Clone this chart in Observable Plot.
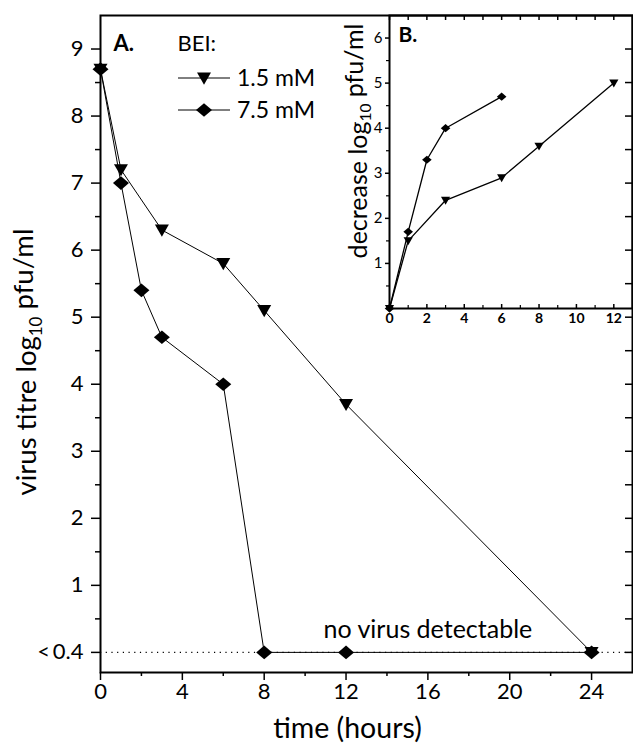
<!DOCTYPE html>
<html>
<head>
<meta charset="utf-8">
<script src="https://cdn.jsdelivr.net/npm/d3@7"></script>
<script src="https://cdn.jsdelivr.net/npm/@observablehq/plot@0.6"></script>
<style>
  html, body { margin: 0; padding: 0; background: white; }
  #wrap { position: relative; width: 633px; height: 750px; }
  #wrap svg { position: absolute; left: 0; top: 0; }
</style>
</head>
<body>
<div id="wrap"></div>
<script>
// ---------- data: panel A (virus titre) ----------
const timeA15 = [0, 1, 3, 6, 8, 12, 24];
const titreA15 = [8.7, 7.2, 6.3, 5.8, 5.1, 3.7, 0];
const timeA75 = [0, 1, 2, 3, 6, 8, 12, 24];
const titreA75 = [8.7, 7.0, 5.4, 4.7, 4.0, 0, 0, 0];

// ---------- data: panel B (decrease) ----------
const timeB15 = [0, 1, 3, 6, 8, 12];
const decB15 = [0, 1.5, 2.4, 2.9, 3.6, 5.0];
const timeB75 = [0, 1, 2, 3, 6];
const decB75 = [0, 1.7, 3.3, 4.0, 4.7];

const seriesNames = ["1.5 mM", "7.5 mM"];

// ---------- ticks ----------
const yTicksA = [0, 1, 2, 3, 4, 5, 6, 7, 8, 9];
const yTickLabelsA = ["<\u20090.4", "1", "2", "3", "4", "5", "6", "7", "8", "9"];
const yMinorA = [0.5, 1.5, 2.5, 3.5, 4.5, 5.5, 6.5, 7.5, 8.5];
const yRightA = [0, 0.5, 1, 1.5, 2, 2.5, 3, 3.5, 4, 4.5, 5, 5.5, 6, 6.5, 7, 7.5, 8, 8.5, 9];
const xTicksA = [0, 4, 8, 12, 16, 20, 24];
const xMinorA = [2, 6, 10, 14, 18, 22];

const yTicksB = [1, 2, 3, 4, 5, 6];
const yMinorB = [0.5, 1.5, 2.5, 3.5, 4.5, 5.5];
const xTicksB = [0, 2, 4, 6, 8, 10, 12];
const xMinorB = [1, 3, 5, 7, 9, 11];

const annotations = [{label: "no virus detectable", t: 16, v: 0}];

// ---------- tables ----------
const dataA = [
  ...timeA15.map((t, i) => ({t, v: titreA15[i], s: seriesNames[0]})),
  ...timeA75.map((t, i) => ({t, v: titreA75[i], s: seriesNames[1]}))
];
const dataB = [
  ...timeB15.map((t, i) => ({t, v: decB15[i], s: seriesNames[0]})),
  ...timeB75.map((t, i) => ({t, v: decB75[i], s: seriesNames[1]}))
];

// ---------- symbols ----------
const triDown = {draw(ctx, size) { const s = Math.sqrt(size / Math.PI);
  ctx.moveTo(-s, -0.78 * s); ctx.lineTo(s, -0.78 * s); ctx.lineTo(0, 0.95 * s); ctx.closePath(); }};
const diamond = {draw(ctx, size) { const s = Math.sqrt(size / Math.PI);
  ctx.moveTo(0, -0.85 * s); ctx.lineTo(s, 0); ctx.lineTo(0, 0.85 * s); ctx.lineTo(-s, 0); ctx.closePath(); }};

const FONT = "Lato, 'Open Sans', sans-serif";

// ---------- main plot ----------
const main = Plot.plot({
  width: 633, height: 750,
  marginLeft: 100, marginRight: 1, marginTop: 15, marginBottom: 78,
  style: {fontFamily: FONT, background: "white", color: "black"},
  x: {domain: [0, 26]},
  y: {domain: [-0.3, 9.5]},
  marks: [
    Plot.ruleY([0], {stroke: "black", strokeWidth: 1.2, strokeDasharray: "1.2,4.5"}),
    Plot.frame({stroke: "black", strokeWidth: 2}),
    Plot.axisY(yTicksA, {anchor: "left", tickSize: 9, tickPadding: 8, strokeWidth: 1.5,
      tickFormat: (d) => yTickLabelsA[yTicksA.indexOf(d)], fontSize: 22, label: null}),
    Plot.axisY(yMinorA, {anchor: "left", tickSize: 5, strokeWidth: 1.5, tickFormat: () => "", label: null}),
    Plot.axisY(yRightA, {anchor: "right", tickSize: -8, strokeWidth: 1.5, tickFormat: () => "", label: null}),
    Plot.axisX(xTicksA, {anchor: "bottom", tickSize: 8, tickPadding: 3, strokeWidth: 1.5, fontSize: 22, label: null}),
    Plot.axisX(xMinorA, {anchor: "bottom", tickSize: 4, strokeWidth: 1.5, tickFormat: () => "", label: null}),
    Plot.line(dataA, {x: "t", y: "v", z: "s", stroke: "black", strokeWidth: 1}),
    Plot.dot(dataA.filter(d => d.s === seriesNames[0]), {x: "t", y: "v", r: 7, symbol: triDown, fill: "black", stroke: "none"}),
    Plot.dot(dataA.filter(d => d.s === seriesNames[1]), {x: "t", y: "v", r: 8, symbol: diamond, fill: "black", stroke: "none"}),
    Plot.text(annotations, {x: "t", y: "v", text: "label", dy: -22, fontSize: 25}),
    Plot.text(["time (hours)"], {frameAnchor: "bottom", dy: 65, dx: -19, fontSize: 28.5}),
    Plot.text(["virus titre log10 pfu/ml"], {frameAnchor: "left", textAnchor: "middle", rotate: -90, dx: -73, dy: 18, fontSize: 27.5}),
    Plot.text(["A."], {frameAnchor: "top-left", dx: 13, dy: 28, fontSize: 22, fontWeight: "bold", textAnchor: "start", lineAnchor: "middle"}),
    Plot.text(["BEI:"], {frameAnchor: "top-left", dx: 77, dy: 28, fontSize: 22, textAnchor: "start", lineAnchor: "middle"})
  ]
});

// ---------- inset plot ----------
const inset = Plot.plot({
  width: 633, height: 330,
  marginLeft: 389, marginRight: 1, marginTop: 15, marginBottom: 22,
  style: {fontFamily: FONT, background: "transparent", color: "black", overflow: "visible"},
  x: {domain: [0, 13]},
  y: {domain: [0, 6.5]},
  marks: [
    Plot.frame({stroke: "black", strokeWidth: 2}),
    Plot.axisY(yTicksB, {anchor: "left", tickSize: 4, tickPadding: 3, strokeWidth: 1.5, fontSize: 15, label: null}),
    Plot.axisY(yMinorB, {anchor: "left", tickSize: 3, strokeWidth: 1.2, tickFormat: () => "", label: null}),
    Plot.axisX(xTicksB, {anchor: "bottom", tickSize: -4, tickPadding: 9, strokeWidth: 1.5, fontSize: 14, fontWeight: "bold", label: null}),
    Plot.axisX(xMinorB, {anchor: "bottom", tickSize: -3, strokeWidth: 1.2, tickFormat: () => "", label: null}),
    Plot.axisX(xTicksB.concat(xMinorB), {anchor: "top", tickSize: -4, strokeWidth: 1.5, tickFormat: () => "", label: null}),
    Plot.line(dataB, {x: "t", y: "v", z: "s", stroke: "black", strokeWidth: 1.3}),
    Plot.dot(dataB.filter(d => d.s === seriesNames[0]), {x: "t", y: "v", r: 4.6, symbol: triDown, fill: "black", stroke: "none"}),
    Plot.dot(dataB.filter(d => d.s === seriesNames[1]), {x: "t", y: "v", r: 4.8, symbol: diamond, fill: "black", stroke: "none"}),
    Plot.text(["decrease log10 pfu/ml"], {frameAnchor: "left", textAnchor: "middle", rotate: -90, dx: -31, dy: -21, fontSize: 25}),
    Plot.text(["B."], {frameAnchor: "top-left", dx: 9, dy: 20, fontSize: 21, fontWeight: "bold", textAnchor: "start", lineAnchor: "middle"})
  ]
});

const wrap = document.getElementById("wrap");
wrap.appendChild(main);
wrap.appendChild(inset);

// subscript "10" in axis titles
for (const svg of [main, inset]) {
  d3.select(svg).selectAll("text").each(function() {
    const txt = this.textContent;
    if (this.childElementCount === 0 && txt.includes("log10")) {
      const [a, b] = txt.split("log10");
      const sel = d3.select(this);
      sel.text(null);
      sel.append("tspan").text(a + "log");
      sel.append("tspan").attr("font-size", "0.62em").attr("dy", "0.32em").text("10");
      sel.append("tspan").attr("dy", "-0.32em").text(b);
    }
  });
}

// legend (series keys) inside panel A
const lg = d3.select(main).append("g").attr("font-family", FONT).attr("font-size", 23).attr("text-anchor", "start");
seriesNames.forEach((name, i) => {
  const y = 78 + i * 32;
  lg.append("line").attr("x1", 178).attr("x2", 230).attr("y1", y).attr("y2", y)
    .attr("stroke", "black").attr("stroke-width", 1);
  const sym = i === 0 ? triDown : diamond;
  const r = i === 0 ? 7 : 8;
  lg.append("path").attr("transform", `translate(204,${y})`)
    .attr("d", d3.symbol().type(sym).size(r * r * Math.PI)()).attr("fill", "black");
  lg.append("text").attr("x", 237).attr("y", y).attr("dy", "0.35em").attr("text-anchor", "start").text(name);
});
</script>
</body>
</html>
